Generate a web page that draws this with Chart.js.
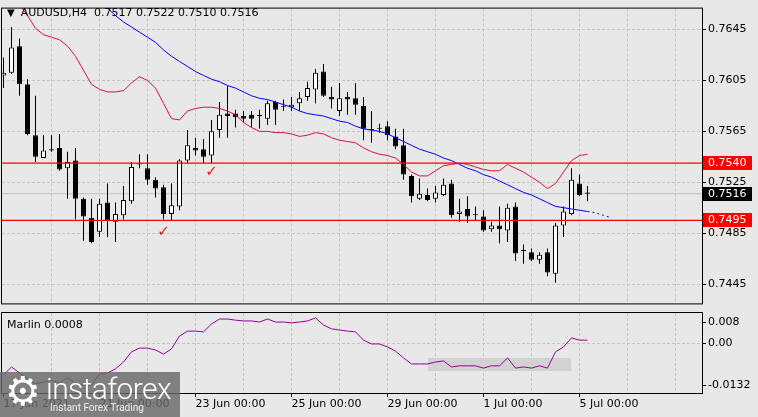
<!DOCTYPE html>
<html>
<head>
  <title>AUDUSD H4</title>
  <style>
    body { margin: 0; background: #e8e8e8; }
    #wrap { position: relative; width: 758px; height: 417px; overflow: hidden; background: #e8e8e8; }
    canvas { position: absolute; left: 0; }
    #priceChart { top: 0; }
    #marlinChart { top: 312px; }
    .title { position: absolute; left: 7px; top: 6px; font: 11px "DejaVu Sans"; color: #000; white-space: pre; }
    .title .tri { font-size: 10px; margin-right: 6px; }
    .ind-title { position: absolute; left: 7px; top: 318px; font: 11px "DejaVu Sans"; color: #000; }
    #logo { position: absolute; left: 0; top: 372px; width: 180px; height: 45px; background: rgba(105, 105, 105, 0.82); overflow: hidden; }
    #logo .gear { position: absolute; left: 5px; top: -4px; font: 40px "DejaVu Sans"; color: #fff; }
    #logo .brand { position: absolute; left: 46px; top: 1px; font: 300 30px Roboto; line-height: 31px; color: #fff; letter-spacing: -0.6px; }
    #logo .tag { position: absolute; left: 50px; top: 30px; font: 10px Roboto; color: #eee; }
  </style>
</head>
<body>
  <div id="wrap">
    <canvas id="priceChart" width="758" height="312"></canvas>
    <canvas id="marlinChart" width="758" height="105"></canvas>
    <div class="title"><span class="tri">▼</span>AUDUSD,H4  0.7517 0.7522 0.7510 0.7516</div>
    <div class="ind-title">Marlin 0.0008</div>
    <div id="logo">
      <span class="gear">⚙</span>
      <span class="brand">instaforex</span>
      <span class="tag">Instant Forex Trading</span>
    </div>
  </div>
  <script src="https://cdn.jsdelivr.net/npm/chart.js"></script>
  <script>
    // H4 candles, 17 Jun 2021 00:00 .. 5 Jul 2021 04:00
    const opens = [
      0.7609, 0.7611, 0.7632, 0.7602, 0.7562, 0.7544, 0.7551, 0.7552, 0.7536, 0.7542,
      0.7512, 0.7497, 0.7486, 0.7509, 0.7494, 0.7499, 0.7510, 0.7539, 0.7536, 0.7527,
      0.7521, 0.7500, 0.7506, 0.7542, 0.7552, 0.7551, 0.7546, 0.7566, 0.7579, 0.7579,
      0.7577, 0.7578, 0.7577, 0.7575, 0.7588, 0.7584, 0.7584, 0.7587, 0.7592, 0.7598,
      0.7612, 0.7592, 0.7581, 0.7592, 0.7591, 0.7585, 0.7566, 0.7567, 0.7569, 0.7561,
      0.7554, 0.7530, 0.7512, 0.7515, 0.7512, 0.7515, 0.7524, 0.7500, 0.7504, 0.7499,
      0.7498, 0.7488, 0.7491, 0.7487, 0.7506, 0.7471, 0.7470, 0.7464, 0.7470, 0.7453,
      0.7491, 0.7500, 0.7524, 0.7517
    ];
    const highs = [
      0.7623, 0.7647, 0.7638, 0.7606, 0.7593, 0.7562, 0.7562, 0.7563, 0.7549, 0.7552,
      0.7513, 0.7512, 0.7512, 0.7524, 0.7509, 0.7522, 0.7541, 0.7547, 0.7547, 0.7529,
      0.7523, 0.7524, 0.7543, 0.7566, 0.7560, 0.7559, 0.7574, 0.7588, 0.7601, 0.7582,
      0.7581, 0.7581, 0.7582, 0.7589, 0.7589, 0.7590, 0.7592, 0.7596, 0.7604, 0.7614,
      0.7618, 0.7600, 0.7603, 0.7596, 0.7603, 0.7592, 0.7581, 0.7571, 0.7573, 0.7567,
      0.7567, 0.7531, 0.7528, 0.7520, 0.7522, 0.7528, 0.7527, 0.7512, 0.7514, 0.7506,
      0.7503, 0.7494, 0.7506, 0.7508, 0.7509, 0.7476, 0.7473, 0.7470, 0.7473, 0.7493,
      0.7506, 0.7536, 0.7531, 0.7522
    ];
    const lows = [
      0.7599, 0.7610, 0.7593, 0.7562, 0.7541, 0.7544, 0.7549, 0.7534, 0.7512, 0.7496,
      0.7479, 0.7477, 0.7482, 0.7482, 0.7478, 0.7496, 0.7508, 0.7536, 0.7523, 0.7513,
      0.7496, 0.7495, 0.7503, 0.7540, 0.7546, 0.7540, 0.7540, 0.7560, 0.7560, 0.7568,
      0.7572, 0.7568, 0.7567, 0.7570, 0.7570, 0.7581, 0.7581, 0.7581, 0.7589, 0.7587,
      0.7592, 0.7583, 0.7577, 0.7578, 0.7578, 0.7558, 0.7556, 0.7564, 0.7558, 0.7551,
      0.7527, 0.7509, 0.7511, 0.7510, 0.7509, 0.7514, 0.7497, 0.7494, 0.7493, 0.7495,
      0.7486, 0.7486, 0.7477, 0.7478, 0.7463, 0.7461, 0.7463, 0.7461, 0.7451, 0.7446,
      0.7482, 0.7499, 0.7514, 0.7510
    ];
    const closes = [
      0.7611, 0.7631, 0.7602, 0.7563, 0.7545, 0.7550, 0.7550, 0.7535, 0.7541, 0.7512,
      0.7498, 0.7478, 0.7508, 0.7495, 0.7500, 0.7511, 0.7537, 0.7539, 0.7527, 0.7520,
      0.7500, 0.7507, 0.7542, 0.7554, 0.7550, 0.7545, 0.7565, 0.7578, 0.7577, 0.7576,
      0.7575, 0.7575, 0.7577, 0.7587, 0.7582, 0.7584, 0.7586, 0.7591, 0.7599, 0.7611,
      0.7593, 0.7590, 0.7591, 0.7590, 0.7586, 0.7567, 0.7566, 0.7567, 0.7562, 0.7553,
      0.7531, 0.7514, 0.7516, 0.7511, 0.7517, 0.7523, 0.7499, 0.7502, 0.7498, 0.7499,
      0.7487, 0.7491, 0.7488, 0.7505, 0.7469, 0.7471, 0.7464, 0.7468, 0.7454, 0.7491,
      0.7502, 0.7527, 0.7515, 0.7516
    ];

    // blue moving average, starts at bar 12, last 3 points are the dotted projection
    const blueStart = 12;
    const blueMA = [
      0.7666, 0.7662, 0.7656, 0.7651, 0.7647, 0.7643, 0.7639, 0.7635, 0.7629, 0.7624,
      0.7620, 0.7616, 0.7612, 0.7609, 0.7606, 0.7604, 0.7601, 0.7599, 0.7596, 0.7593,
      0.7591, 0.7590, 0.7588, 0.7586, 0.7584, 0.7581, 0.7579, 0.7578, 0.7577, 0.7575,
      0.7573, 0.7572, 0.7569, 0.7567, 0.7566, 0.7565, 0.7563, 0.7560, 0.7557, 0.7554,
      0.7551, 0.7549, 0.7547, 0.7544, 0.7542, 0.7539, 0.7536, 0.7534, 0.7531, 0.7529,
      0.7526, 0.7523, 0.7520, 0.7517, 0.7515, 0.7512, 0.7509, 0.7506, 0.7505, 0.7504,
      0.7503, 0.7502, 0.7501, 0.7499, 0.7497
    ];
    // red line, starts at bar 2
    const redStart = 2;
    const redLine = [
      0.7665, 0.7656, 0.7646, 0.7641, 0.7639, 0.7637, 0.7632, 0.7624, 0.7613, 0.7602,
      0.7598, 0.7596, 0.7596, 0.7597, 0.7603, 0.7608, 0.7605, 0.7599, 0.7587, 0.7575,
      0.7574, 0.7581, 0.7583, 0.7584, 0.7584, 0.7583, 0.7581, 0.7578, 0.7572, 0.7568,
      0.7565, 0.7565, 0.7564, 0.7564, 0.7563, 0.7561, 0.7562, 0.7564, 0.7563, 0.7560,
      0.7558, 0.7557, 0.7556, 0.7552, 0.7549, 0.7547, 0.7546, 0.7544, 0.7539, 0.7533,
      0.7530, 0.7530, 0.7534, 0.7538, 0.7539, 0.7540, 0.7539, 0.7537, 0.7535, 0.7534,
      0.7534, 0.7539, 0.7536, 0.7533, 0.7529, 0.7525, 0.7520, 0.7524, 0.7533, 0.7542,
      0.7546, 0.7547
    ];
    // Marlin oscillator
    const marlin = [
      -0.0084, -0.0063, -0.0079, -0.0095, -0.0108, -0.0103, -0.0098, -0.0106, -0.0092, -0.0106,
      -0.0111, -0.0111, -0.0082, -0.0079, -0.0068, -0.0050, -0.0023, -0.0013, -0.0013, -0.0018,
      -0.0029, -0.0015, 0.0019, 0.0032, 0.0032, 0.0030, 0.0051, 0.0064, 0.0064, 0.0061,
      0.0059, 0.0059, 0.0056, 0.0064, 0.0056, 0.0056, 0.0054, 0.0056, 0.0059, 0.0067,
      0.0048, 0.0038, 0.0035, 0.0032, 0.0030, 0.0008, -0.0002, -0.0002, -0.0010, -0.0021,
      -0.0039, -0.0055, -0.0055, -0.0055, -0.0050, -0.0047, -0.0063, -0.0060, -0.0060, -0.0060,
      -0.0066, -0.0060, -0.0060, -0.0039, -0.0066, -0.0063, -0.0066, -0.0060, -0.0066, -0.0023,
      -0.0010, 0.0014, 0.0008, 0.0008
    ];

    const levels = [0.7540, 0.7495];
    const bidPrice = 0.7516;
    const checkBars = [20, 26];
    const checkPrices = [0.7486, 0.7533];
    const boxBars = [53, 71];
    const boxValues = [-0.0039, -0.0074];

    const priceTicks = [0.7445, 0.7485, 0.7525, 0.7565, 0.7605, 0.7645];
    const marlinTicks = [0.008, 0.00, -0.0132];
    const marlinTickText = ['0.008', '0.00', '-0.0132'];
    const dateLabels = ['17 Jun 2021', '21 Jun 00:00', '23 Jun 00:00', '25 Jun 00:00', '29 Jun 00:00', '1 Jul 00:00', '5 Jul 00:00'];
    const barsPerLabel = 12;
    const barsPerGrid = 6;

    // x range: 8px per bar over a 700px plot
    const xMin = -0.1875, xMax = 87.3125;
    const gridBars = [];
    for (let b = barsPerGrid; b < xMax; b += barsPerGrid) gridBars.push(b);

    Chart.defaults.font.family = "'DejaVu Sans'";
    Chart.defaults.font.size = 11;
    Chart.defaults.color = '#000';

    const GRID = '#c4c4c4';

    const frame = {
      id: 'frame',
      afterDraw(chart) {
        const { ctx, chartArea: a } = chart;
        ctx.save();
        ctx.strokeStyle = '#000';
        ctx.lineWidth = 1;
        ctx.strokeRect(a.left - 0.5, a.top - 0.5, a.right - a.left + 1, a.bottom - a.top + 1);
        ctx.restore();
      }
    };

    const priceTags = {
      id: 'priceTags',
      afterDraw(chart) {
        const { ctx, chartArea: a } = chart;
        const ys = chart.scales.y;
        const tags = levels.map(v => ({ v, bg: '#ff0000' })).concat([{ v: bidPrice, bg: '#000' }]);
        ctx.save();
        ctx.font = '11px "DejaVu Sans"';
        ctx.textBaseline = 'middle';
        ctx.textAlign = 'left';
        tags.forEach(t => {
          const py = Math.round(ys.getPixelForValue(t.v));
          ctx.fillStyle = t.bg;
          ctx.fillRect(a.right + 1, py - 7, 49, 14);
          ctx.fillStyle = '#fff';
          ctx.fillText(t.v.toFixed(4), a.right + 6, py + 0.5);
        });
        ctx.restore();
      }
    };

    const checks = {
      id: 'checks',
      afterDatasetsDraw(chart) {
        const { ctx, scales: { x, y } } = chart;
        ctx.save();
        ctx.fillStyle = '#f01818';
        ctx.font = 'bold 15px "DejaVu Sans"';
        ctx.textAlign = 'center';
        ctx.textBaseline = 'middle';
        checkBars.forEach((b, k) => {
          ctx.fillText('✓', x.getPixelForValue(b), y.getPixelForValue(checkPrices[k]));
        });
        ctx.restore();
      }
    };

    const idx = opens.map((_, i) => i);
    const wicks = idx.map(i => ({ x: i, y: [lows[i], highs[i]] }));
    const bodies = idx.map(i => ({ x: i, y: [opens[i], closes[i]] }));
    const bodyColors = idx.map(i => closes[i] > opens[i] ? '#fff' : '#000');

    const lastBar = opens.length - 1;
    const blueData = blueMA.map((v, k) => ({ x: blueStart + k, y: v }));
    const redData = redLine.map((v, k) => ({ x: redStart + k, y: v }));
    const flat = v => [{ x: xMin, y: v }, { x: xMax, y: v }];

    const lineBase = { type: 'line', pointRadius: 0, borderWidth: 1, tension: 0, clip: 0 };

    new Chart(document.getElementById('priceChart'), {
      type: 'bar',
      data: {
        datasets: [
          { ...lineBase, data: flat(levels[0]), borderColor: '#ff0000', borderWidth: 1.4, order: 0 },
          { ...lineBase, data: flat(levels[1]), borderColor: '#ff0000', borderWidth: 1.4, order: 0 },
          {
            ...lineBase, data: blueData, borderColor: '#0000ff', order: 1,
            segment: { borderDash: c => c.p0.parsed.x >= lastBar ? [2, 3] : undefined }
          },
          { ...lineBase, data: redData, borderColor: '#e0103c', order: 1 },
          {
            data: bodies, backgroundColor: bodyColors, borderColor: '#000', borderWidth: 1,
            borderSkipped: false, barThickness: 5, minBarLength: 1, inflateAmount: 0,
            grouped: false, clip: 0, order: 2
          },
          {
            data: wicks, backgroundColor: '#000', borderWidth: 0, barThickness: 1,
            inflateAmount: 0, grouped: false, clip: 0, order: 3
          },
          { ...lineBase, data: flat(bidPrice), borderColor: '#c0c0c0', order: 4 }
        ]
      },
      options: {
        responsive: false,
        animation: false,
        devicePixelRatio: 1,
        layout: { padding: { left: 2, top: 2, right: 0, bottom: 1 } },
        plugins: { legend: { display: false }, tooltip: { enabled: false } },
        scales: {
          x: {
            type: 'linear', min: xMin, max: xMax, offset: false,
            afterBuildTicks: s => { s.ticks = gridBars.map(v => ({ value: v })); },
            afterFit: s => { s.height = 0; },
            ticks: { display: false },
            grid: { color: GRID, drawTicks: false, offset: false },
            border: { display: false, dash: [3, 2] }
          },
          y: {
            position: 'right', min: 0.742975, max: 0.76615,
            afterBuildTicks: s => { s.ticks = priceTicks.map(v => ({ value: v })); },
            afterFit: s => { s.width = 56; },
            ticks: { padding: 2, callback: v => v.toFixed(4) },
            grid: { color: GRID, tickColor: '#000', tickLength: 4 },
            border: { display: false, dash: [3, 2] }
          }
        }
      },
      plugins: [checks, frame, priceTags]
    });

    const marlinLabels = {
      id: 'marlinLabels',
      afterDraw(chart) {
        const { ctx, chartArea: a } = chart;
        const ys = chart.scales.y;
        ctx.save();
        ctx.font = '11px "DejaVu Sans"';
        ctx.textBaseline = 'middle';
        ctx.fillStyle = '#000';
        ctx.strokeStyle = '#000';
        marlinTicks.forEach((v, k) => {
          let py = ys.getPixelForValue(v);
          if (k === 0) py += 9;
          if (k === marlinTicks.length - 1) py -= 8;
          py = Math.round(py) + 0.5;
          ctx.beginPath();
          ctx.moveTo(a.right, py);
          ctx.lineTo(a.right + 4, py);
          ctx.stroke();
          ctx.fillText(marlinTickText[k], a.right + 6, py);
        });
        ctx.restore();
      }
    };

    const xTicks = [0].concat(gridBars);
    const isLabelBar = v => v % barsPerLabel === 0 && v / barsPerLabel < dateLabels.length;

    new Chart(document.getElementById('marlinChart'), {
      type: 'line',
      data: {
        datasets: [
          { ...lineBase, data: marlin.map((v, i) => ({ x: i, y: v })), borderColor: '#960096', order: 0 },
          { ...lineBase, data: boxBars.map(b => ({ x: b, y: boxValues[0] })), borderWidth: 0, fill: false, order: 1 },
          { ...lineBase, data: boxBars.map(b => ({ x: b, y: boxValues[1] })), borderWidth: 0, fill: '-1', backgroundColor: '#d2d2d2', order: 1 }
        ]
      },
      options: {
        responsive: false,
        animation: false,
        devicePixelRatio: 1,
        layout: { padding: { left: 2, top: 1, right: 0, bottom: 0 } },
        plugins: { legend: { display: false }, tooltip: { enabled: false } },
        scales: {
          x: {
            type: 'linear', min: xMin, max: xMax,
            afterBuildTicks: s => { s.ticks = xTicks.map(v => ({ value: v })); },
            afterFit: s => { s.height = 24; },
            ticks: {
              autoSkip: false, maxRotation: 0, align: 'start', padding: 1,
              callback: v => isLabelBar(v) ? dateLabels[v / barsPerLabel] : ''
            },
            grid: {
              color: c => (c.tick && c.tick.value === 0) ? 'transparent' : GRID,
              tickColor: c => (c.tick && isLabelBar(c.tick.value)) ? '#000' : 'transparent',
              tickLength: 4
            },
            border: { display: false, dash: [3, 2] }
          },
          y: {
            position: 'right', min: -0.0132, max: 0.008,
            afterBuildTicks: s => { s.ticks = [{ value: 0 }]; },
            afterFit: s => { s.width = 56; },
            ticks: { display: false },
            grid: { color: GRID, drawTicks: false },
            border: { display: false, dash: [3, 2] }
          }
        }
      },
      plugins: [frame, marlinLabels]
    });
  </script>
</body>
</html>
